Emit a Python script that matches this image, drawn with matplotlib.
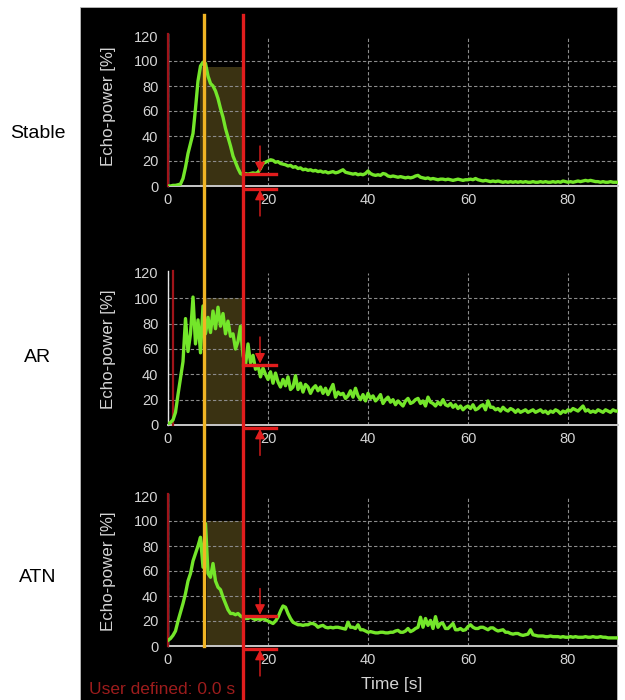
import matplotlib
matplotlib.use("Agg")

import matplotlib.pyplot as plt
from matplotlib.patches import Rectangle
from matplotlib.lines import Line2D
from matplotlib import transforms
import numpy as np

# sampled every 0.5 s, 0..90 s
STEP = 0.5

stable_vals = [
    0, 0, 0.5, 0.5, 1, 1.5, 6, 15, 26, 34,
    42, 62, 84, 96, 99, 98, 88, 82, 80, 76,
    70, 62, 55, 46, 39, 32, 24, 19, 14, 10,
    9, 10, 9.5, 10, 10.5, 10, 11, 14, 18, 19,
    20, 21, 20.5, 19, 19.5, 18, 17.5, 17, 16, 16.5,
    15, 15.5, 14, 14.5, 13, 13.5, 12.5, 13, 12, 12.5,
    11.5, 12, 11, 11.5, 10.5, 11, 11.5, 10.5, 11, 12,
    13, 11, 10.5, 10, 9.5, 10, 9, 9.5, 9, 10,
    12, 10, 9, 8.5, 9, 8.5, 10, 9.5, 8, 7.5,
    8, 7.5, 7, 7.5, 7, 6.5, 7, 6.5, 7, 8,
    8.5, 7, 6.5, 6, 6.5, 5.5, 6, 5.5, 5, 5.5,
    5.5, 5, 5.5, 5, 4.5, 5, 5.5, 5, 4.5, 5,
    5, 5.5, 5, 6, 5, 4.5, 4, 4.5, 4, 3.5,
    4, 3.5, 4, 3.5, 3, 3.5, 3, 3.5, 3, 3.5,
    3, 3.5, 3, 3.5, 3, 3, 3.5, 3, 3, 3.5,
    3, 3.5, 3, 3, 3.5, 3, 3.5, 3, 4, 3.5,
    3, 3.5, 3, 3.5, 4, 3.5, 4, 4.5, 4, 4.5,
    4, 3.5, 3.5, 3, 3.5, 3, 3, 3.5, 3, 3,
    3,
]

ar_vals = [
    1, 2, 4, 10, 24, 37, 50, 84, 58, 72,
    101, 64, 83, 57, 94, 72, 85, 73, 90, 76,
    93, 78, 88, 72, 82, 70, 72, 60, 66, 78,
    55, 47, 64, 49, 55, 44, 47, 38, 45, 40,
    36, 42, 33, 41, 34, 30, 36, 31, 38, 28,
    30, 39, 28, 33, 26, 32, 30, 25, 29, 31,
    27, 30, 25, 29, 24, 28, 32, 22, 26, 24,
    25, 21, 23, 27, 22, 29, 23, 20, 24, 19,
    25, 21, 23, 19, 21, 24, 17, 20, 22, 18,
    20, 16, 19, 17, 15, 19, 21, 17, 18, 20,
    21, 17, 19, 15, 22, 18, 17, 15, 18, 16,
    20, 16, 15, 17, 14, 16, 13, 15, 12, 14,
    15, 13, 16, 12, 13, 15, 16, 12, 19, 14,
    14, 12, 13, 11, 14, 12, 11, 13, 12, 10,
    12, 10, 11, 12, 10, 11, 12, 10, 11, 12,
    10, 11, 9, 11, 10, 12, 11, 9, 11, 10,
    12, 11, 13, 12, 11, 13, 15, 11, 12, 10,
    11, 10, 12, 11, 10, 12, 11, 10, 12, 11,
    11,
]

atn_vals = [
    4.5, 6, 8.5, 12, 20, 27, 34, 42, 52, 58,
    68, 74, 80, 87, 63, 98, 58, 55, 66, 52,
    47, 45, 39, 34, 29, 26, 26, 25, 26, 24,
    23, 22, 22, 23, 22, 21, 22, 21, 22, 21,
    20, 19, 18, 20, 23, 28, 32, 31, 26, 22,
    19, 18, 17, 17, 16.5, 17, 17, 18, 18, 17,
    15, 16, 16.5, 15, 14.5, 15, 14.5, 15, 15, 14.5,
    14, 13.5, 19, 15, 15, 14, 17, 13, 13, 12,
    11, 11.5, 11, 10.5, 10.5, 11, 11, 10.5, 10.5, 11,
    11, 12, 12.5, 11, 11, 12, 14, 11.5, 12.5, 14,
    15, 23, 15, 22, 16.5, 20.5, 14, 23.5, 15, 18,
    18, 14, 14, 16, 18, 13, 13, 14, 12.5, 13,
    15.5, 17, 15, 14, 14, 15, 15, 14, 13, 14.5,
    14.5, 13, 12, 12.5, 13, 11, 11, 10, 9.5, 10,
    10, 9, 8.5, 9, 9.5, 13, 9, 8.5, 8, 8,
    8, 7.5, 7.5, 8, 7.5, 7.5, 7.5, 7, 7.5, 7,
    7, 7.5, 7, 7.5, 7, 7, 7, 7.5, 7, 7,
    7.5, 7, 7, 7.5, 7, 7, 6.5, 6.5, 6.5, 6.5,
    6.5,
]

groups = ["Stable", "AR", "ATN"]
series = [stable_vals, ar_vals, atn_vals]
plateau = [10, 47.5, 24]       # level at the cut time
shade_start = [6.3, 7.6, 7.7]
shade_top = [95, 100, 100]
zero_line_x = [0, 1, 0]
peak_time = 7.2
cut_time = 15.0
xticks = [0, 20, 40, 60, 80]
yticks = [0, 20, 40, 60, 80, 100, 120]

GREEN = "#74e62a"
RED = "#e11d1d"
DARKRED = "#a0141a"
YELLOW = "#f0b424"
SHADE = "#3a3212"
TXT = "#d4d4d4"

W, H = 625, 700
fig = plt.figure(figsize=(6.25, 7), dpi=100, facecolor="white")
fig.patches.append(Rectangle((80 / W, 0), (617 - 80) / W, (700 - 7) / H,
                             transform=fig.transFigure, facecolor="black",
                             edgecolor="#bbbbbb", lw=0.6, zorder=-5))

# axes placement in pixels: (y of value 0, pixel height of 0..120)
panels = [(186, 150), (425, 152), (646, 150)]
label_y = [0.53, 0.5, 0.5]
axes = []
for i, (y0, h) in enumerate(panels):
    ax = fig.add_axes([168 / W, 1 - y0 / H, 450 / W, h / H])
    ax.set_facecolor("none")
    vals = np.array(series[i])
    t = np.arange(len(vals)) * STEP
    ax.set_xlim(0, 90)
    ax.set_ylim(0, 120)

    ax.set_xticks(xticks)
    ax.set_yticks(yticks)
    ax.tick_params(length=0, colors=TXT, labelsize=10.5)
    ax.tick_params(axis="y", pad=7)
    ax.tick_params(axis="x", pad=5)
    for lab in ax.get_xticklabels() + ax.get_yticklabels():
        lab.set_family(["Liberation Sans Narrow", "Liberation Sans"])
    ax.grid(True, color="#8c8c8c", linestyle=(0, (3, 2)), linewidth=0.8)
    ax.yaxis.get_gridlines()[-1].set_visible(False)
    for s in ["top", "right"]:
        ax.spines[s].set_visible(False)
    ax.spines["bottom"].set_color("#c8c8c8")
    ax.spines["bottom"].set_linewidth(1.4)
    ax.spines["left"].set_color("#e8e8e8")
    ax.spines["left"].set_linewidth(1.0)
    ax.spines["left"].set_bounds(0, 121.5)

    ax.text(-0.133, label_y[i], "Echo-power [%]", rotation=90, ha="center",
            va="center", color=TXT, fontsize=12.2, family="Liberation Sans",
            transform=ax.transAxes)

    ax.add_patch(Rectangle((shade_start[i], -1), cut_time - shade_start[i],
                           shade_top[i] + 1, facecolor=SHADE, edgecolor="none",
                           zorder=1, clip_on=False))
    ax.plot([zero_line_x[i], zero_line_x[i]], [0, 121.5], color=DARKRED,
            lw=1.6, zorder=3, clip_on=False)
    ax.plot(t, vals, color=GREEN, lw=2.4, zorder=4, solid_joinstyle="round")

    # plateau markers with arrows
    ax.plot([cut_time, 21.6], [plateau[i], plateau[i]], color=RED, lw=2.4,
            zorder=6, clip_on=False)
    ax.plot([cut_time + 0.3, 21.6], [-2, -2], color=RED, lw=2.4,
            zorder=6, clip_on=False)
    ax.annotate("", xy=(18.4, plateau[i] + 1), xytext=(18.4, plateau[i] + 22),
                arrowprops=dict(arrowstyle="-|>", color=RED, lw=1.0,
                                mutation_scale=15, shrinkA=0, shrinkB=0),
                annotation_clip=False, zorder=7)
    ax.annotate("", xy=(18.4, -3), xytext=(18.4, -24),
                arrowprops=dict(arrowstyle="-|>", color=RED, lw=1.0,
                                mutation_scale=15, shrinkA=0, shrinkB=0),
                annotation_clip=False, zorder=7)
    axes.append(ax)

# group names on the white margin
for name, ypx in zip(groups, [134, 357, 577]):
    fig.text(38 / W, 1 - ypx / H, name, ha="center", va="center",
             fontsize=14, family="Liberation Sans", color="black")

# long vertical markers through all panels
blend = transforms.blended_transform_factory(axes[0].transData, fig.transFigure)
fig.add_artist(Line2D([peak_time, peak_time], [1 - 15 / H, 1 - 646 / H],
                      transform=blend, color=YELLOW, lw=2.4, zorder=8))
fig.add_artist(Line2D([cut_time, cut_time], [1 - 15 / H, 0],
                      transform=blend, color=RED, lw=2.4, zorder=8))

fig.text(392 / W, 1 - 684 / H, "Time [s]", ha="center", va="center",
         color=TXT, fontsize=12.5, family="Liberation Sans")
fig.text(89 / W, 1 - 690 / H, "User defined: 0.0 s", ha="left", va="center",
         color="#9c1c1c", fontsize=12.5, family="Liberation Sans")

fig.savefig("out.png", dpi=100, facecolor="white")
